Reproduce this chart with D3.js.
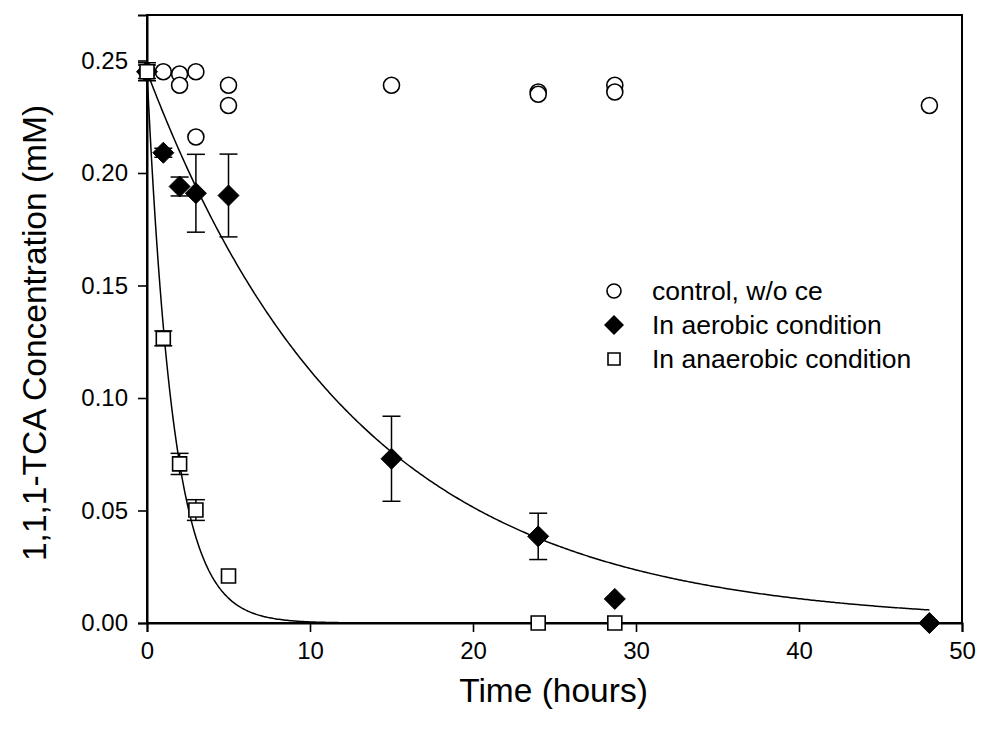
<!DOCTYPE html>
<html><head><meta charset="utf-8">
<script src="https://cdn.jsdelivr.net/npm/d3@7/dist/d3.min.js"></script>
<style>body{margin:0;background:#fff;} svg{display:block;} text{font-family:"Liberation Sans",Arial,sans-serif;fill:#000;}</style>
</head><body><svg id="c" width="984" height="738"></svg>
<script>
// Control, w/o ce (open circles)
const controlT = [0, 1, 2, 2, 3, 3, 5, 5, 15, 24, 24, 28.7, 28.7, 48];
const controlC = [0.245, 0.245, 0.244, 0.239, 0.245, 0.216, 0.239, 0.230, 0.239, 0.236, 0.235, 0.239, 0.236, 0.230];
// Aerobic (filled diamonds) with error
const aeroT = [0, 1, 2, 3, 5, 15, 24, 28.7, 48];
const aeroC = [0.245, 0.209, 0.194, 0.191, 0.190, 0.073, 0.0385, 0.0107, 0.0];
const aeroE = [0.004, 0.002, 0.0042, 0.0173, 0.0184, 0.0189, 0.0103, 0, 0];
// Anaerobic (open squares) with error
const anaT = [0, 1, 2, 3, 5, 24, 28.7];
const anaC = [0.245, 0.1265, 0.0707, 0.0502, 0.0209, 0.0, 0.0];
const anaE = [0.003, 0.0033, 0.0047, 0.0046, 0, 0, 0];
// First-order fit parameters: C = c0 * exp(-k t)
const fitC0 = 0.245;
const aeroK = 0.078;
const anaK = 0.62;
const fitEnd = 48;
const xTicks = [0, 10, 20, 30, 40, 50];
const yTicks = [0.00, 0.05, 0.10, 0.15, 0.20, 0.25];
const legendLabels = ["control, w/o ce", "In aerobic condition", "In anaerobic condition"];

const FONT = '"Liberation Sans",Arial,sans-serif';
const svg = d3.select("#c");
const L = 147, R = 962, T = 15, B = 623;
const x = d3.scaleLinear().domain([0, 50]).range([L, R]);
const y = d3.scaleLinear().domain([0, 0.27022]).range([B, T]);

svg.append("rect").attr("x", L).attr("y", T).attr("width", R - L).attr("height", B - T)
  .attr("fill", "none").attr("stroke", "#000").attr("stroke-width", 2);

const xAxis = svg.append("g").attr("transform", `translate(0,${B})`)
  .call(d3.axisBottom(x).tickValues(xTicks).tickSize(9).tickPadding(10).tickFormat(d3.format("d")));
const yAxis = svg.append("g").attr("transform", `translate(${L},0)`)
  .call(d3.axisLeft(y).tickValues(yTicks).tickSize(9).tickPadding(10).tickFormat(d3.format(".2f")));
[xAxis, yAxis].forEach(g => {
  g.select(".domain").attr("stroke-width", 2);
  g.selectAll(".tick line").attr("stroke-width", 1.6);
  g.selectAll("text").style("font-family", FONT).style("font-size", "24px");
});
svg.append("text").attr("x", (L + R) / 2 - 1).attr("y", 702).attr("text-anchor", "middle")
  .style("font-size", "33.5px").text("Time (hours)");
svg.append("text").attr("transform", `translate(46,${(T + B) / 2 + 14}) rotate(-90)`).attr("text-anchor", "middle")
  .style("font-size", "33.5px").text("1,1,1-TCA Concentration (mM)");

const plot = svg.append("g");
const line = d3.line().x(d => x(d[0])).y(d => y(d[1]));
[aeroK, anaK].forEach(k => {
  const pts = d3.range(0, fitEnd + 0.001, 0.1).map(t => [t, fitC0 * Math.exp(-k * t)]);
  plot.append("path").attr("d", line(pts)).attr("fill", "none").attr("stroke", "#000").attr("stroke-width", 1.5);
});

function errBars(ts, cs, es) {
  ts.forEach((t, i) => {
    if (!es[i]) return;
    const cx = x(t), y1 = y(cs[i] + es[i]), y2 = y(cs[i] - es[i]);
    plot.append("line").attr("x1", cx).attr("x2", cx).attr("y1", y1).attr("y2", y2).attr("stroke", "#000").attr("stroke-width", 1.5);
    [y1, y2].forEach(yy => plot.append("line").attr("x1", cx - 9).attr("x2", cx + 9).attr("y1", yy).attr("y2", yy).attr("stroke", "#000").attr("stroke-width", 1.5));
  });
}
errBars(aeroT, aeroC, aeroE);
errBars(anaT, anaC, anaE);

const circ = r => d3.symbol().type(d3.symbolCircle).size(Math.PI * r * r)();
const diam = h => `M0,${-h}L${h},0L0,${h}L${-h},0Z`;
const sq = s => `M${-s},${-s}H${s}V${s}H${-s}Z`;

controlT.forEach((t, i) => plot.append("path").attr("d", circ(8)).attr("transform", `translate(${x(t)},${y(controlC[i])})`)
  .attr("fill", "#fff").attr("stroke", "#000").attr("stroke-width", 1.6));
aeroT.forEach((t, i) => plot.append("path").attr("d", diam(10.5)).attr("transform", `translate(${x(t)},${y(aeroC[i])})`)
  .attr("fill", "#000").attr("stroke", "#000").attr("stroke-width", 1));
anaT.forEach((t, i) => plot.append("path").attr("d", sq(7)).attr("transform", `translate(${x(t)},${y(anaC[i])})`)
  .attr("fill", "#fff").attr("stroke", "#000").attr("stroke-width", 1.6));

const lg = svg.append("g");
const ly = [291, 325, 359];
const lx = 614;
lg.append("path").attr("d", circ(7)).attr("transform", `translate(${lx},${ly[0]})`)
  .attr("fill", "#fff").attr("stroke", "#000").attr("stroke-width", 1.6);
lg.append("path").attr("d", diam(10)).attr("transform", `translate(${lx},${ly[1]})`).attr("fill", "#000");
lg.append("path").attr("d", sq(6)).attr("transform", `translate(${lx},${ly[2]})`)
  .attr("fill", "#fff").attr("stroke", "#000").attr("stroke-width", 1.6);
legendLabels.forEach((s, i) => lg.append("text").attr("x", 652).attr("y", ly[i]).attr("dy", "0.35em")
  .style("font-size", "26.5px").text(s));
</script></body></html>
